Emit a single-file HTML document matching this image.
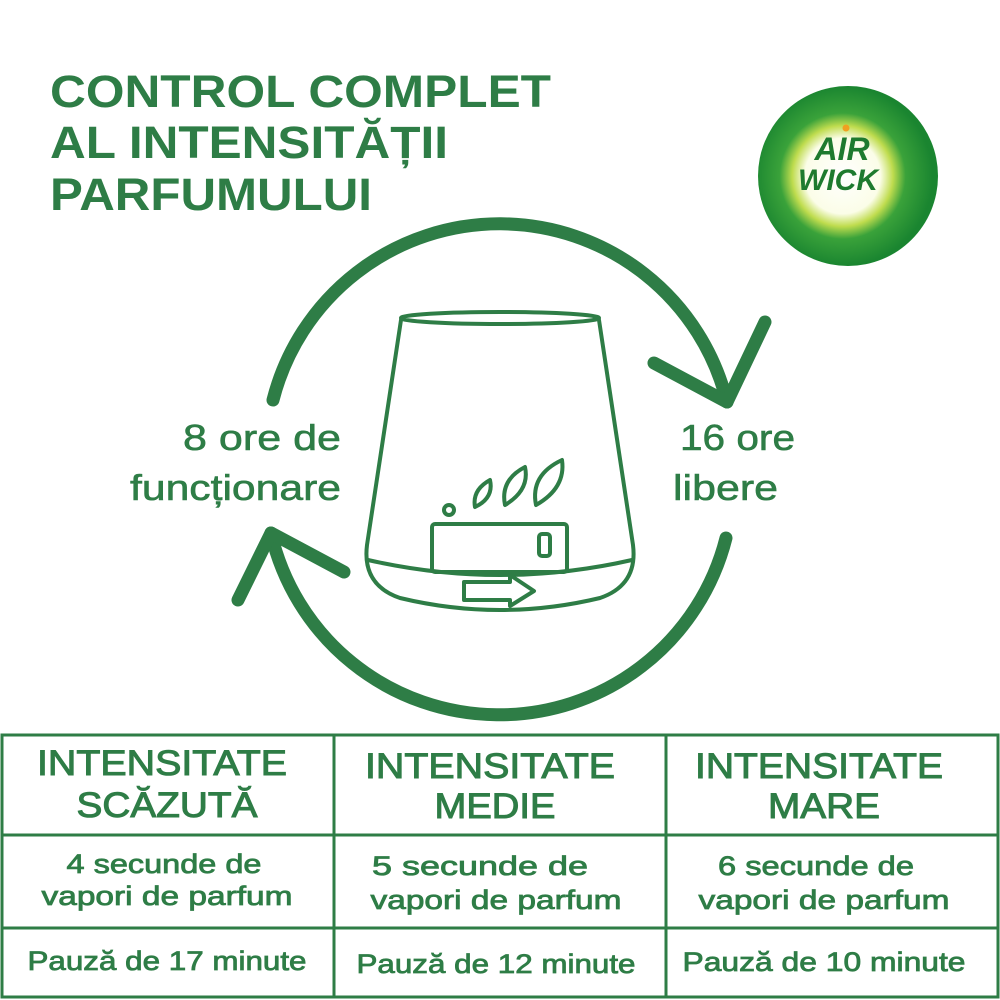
<!DOCTYPE html>
<html><head><meta charset="utf-8"><style>
html,body{margin:0;padding:0;background:#fff;width:1000px;height:1000px;overflow:hidden}
svg{display:block}
text{font-family:"Liberation Sans","DejaVu Sans",sans-serif;fill:#2e7d46}
</style></head><body>
<svg width="1000" height="1000" viewBox="0 0 1000 1000" xmlns="http://www.w3.org/2000/svg">
<defs>
<radialGradient id="lg" cx="0.47" cy="0.5" r="0.5">
<stop offset="0" stop-color="#ffffff"/>
<stop offset="0.42" stop-color="#fbfde8"/>
<stop offset="0.56" stop-color="#bfdc4e"/>
<stop offset="0.7" stop-color="#3aa23a"/>
<stop offset="1" stop-color="#1a8530"/>
</radialGradient>
</defs>
<g font-weight="bold" font-size="45">
<text x="50" y="107" textLength="501" lengthAdjust="spacingAndGlyphs">CONTROL COMPLET</text>
<text x="50" y="158" textLength="398" lengthAdjust="spacingAndGlyphs">AL INTENSITĂȚII</text>
<text x="50" y="210" textLength="322" lengthAdjust="spacingAndGlyphs">PARFUMULUI</text>
</g>
<circle cx="848" cy="176" r="90" fill="url(#lg)"/>
<text x="842" y="160" font-size="32" font-weight="bold" font-style="italic" text-anchor="middle" style="fill:#1e7a2e">AIR</text>
<text x="838" y="190" font-size="30" font-weight="bold" font-style="italic" text-anchor="middle" style="fill:#1e7a2e">WICK</text>
<circle cx="846" cy="128" r="3.5" fill="#f0a020"/>
<g fill="none" stroke="#2e7d46" stroke-width="13" stroke-linecap="round" stroke-linejoin="round">
<path d="M273 400 A234 234 0 0 1 727 402"/>
<path d="M654 363 L727 402 L765 322"/>
<path d="M726 538 A234 234 0 0 1 271 533"/>
<path d="M344 572 L271 533 L238 600"/>
</g>
<g fill="none" stroke="#2e7d46" stroke-width="4" stroke-linejoin="round" stroke-linecap="round">
<ellipse cx="500" cy="318" rx="99" ry="6"/>
<path d="M401 320 L367 545 Q362 585 400 598 Q450 610 500 610 Q550 610 600 598 Q638 585 633 545 L599 320"/>
<path d="M368 560 Q500 590 632 560"/>
<rect x="432" y="524" width="135" height="48" rx="3"/>
<rect x="539" y="534" width="11" height="22" rx="3"/>
<circle cx="449" cy="510" r="5"/>
<path d="M475 507 Q472 490 490 480 Q494 498 475 507 Z"/>
<path d="M505 505 Q500 480 525 467 Q530 490 505 505 Z"/>
<path d="M536 505 Q530 475 562 460 Q566 488 536 505 Z"/>
<path d="M464 582 L510 582 L510 575 L534 591 L510 606 L510 600 L464 600 Z"/>
</g>
<g font-size="36" stroke="#2e7d46" stroke-width="0.6">
<text x="341" y="450" text-anchor="end" textLength="158" lengthAdjust="spacingAndGlyphs">8 ore de</text>
<text x="341" y="500" text-anchor="end" textLength="211" lengthAdjust="spacingAndGlyphs">funcționare</text>
<text x="680" y="450" textLength="115" lengthAdjust="spacingAndGlyphs">16 ore</text>
<text x="673" y="500" textLength="105" lengthAdjust="spacingAndGlyphs">libere</text>
</g>
<g fill="none" stroke="#2e7d46" stroke-width="3">
<rect x="2" y="735" width="996" height="262"/>
<line x1="334" y1="735" x2="334" y2="997"/>
<line x1="666" y1="735" x2="666" y2="997"/>
<line x1="2" y1="835" x2="998" y2="835"/>
<line x1="2" y1="928" x2="998" y2="928"/>
</g>
<g font-size="35" text-anchor="middle" stroke="#2e7d46" stroke-width="1">
<text x="162" y="775" textLength="250" lengthAdjust="spacingAndGlyphs">INTENSITATE</text>
<text x="167" y="817" textLength="181" lengthAdjust="spacingAndGlyphs">SCĂZUTĂ</text>
<text x="490" y="778" textLength="250" lengthAdjust="spacingAndGlyphs">INTENSITATE</text>
<text x="495" y="818" textLength="121" lengthAdjust="spacingAndGlyphs">MEDIE</text>
<text x="819" y="778" textLength="248" lengthAdjust="spacingAndGlyphs">INTENSITATE</text>
<text x="824" y="818" textLength="112" lengthAdjust="spacingAndGlyphs">MARE</text>
</g>
<g font-size="27" text-anchor="middle" stroke="#2e7d46" stroke-width="0.8">
<text x="164" y="873" textLength="195" lengthAdjust="spacingAndGlyphs">4 secunde de</text>
<text x="167" y="905" textLength="251" lengthAdjust="spacingAndGlyphs">vapori de parfum</text>
<text x="480" y="875" textLength="216" lengthAdjust="spacingAndGlyphs">5 secunde de</text>
<text x="496" y="909" textLength="251" lengthAdjust="spacingAndGlyphs">vapori de parfum</text>
<text x="816" y="875" textLength="196" lengthAdjust="spacingAndGlyphs">6 secunde de</text>
<text x="824" y="909" textLength="251" lengthAdjust="spacingAndGlyphs">vapori de parfum</text>
<text x="167" y="970" textLength="279" lengthAdjust="spacingAndGlyphs">Pauză de 17 minute</text>
<text x="496" y="973" textLength="279" lengthAdjust="spacingAndGlyphs">Pauză de 12 minute</text>
<text x="824" y="971" textLength="283" lengthAdjust="spacingAndGlyphs">Pauză de 10 minute</text>
</g>
</svg>
</body></html>
